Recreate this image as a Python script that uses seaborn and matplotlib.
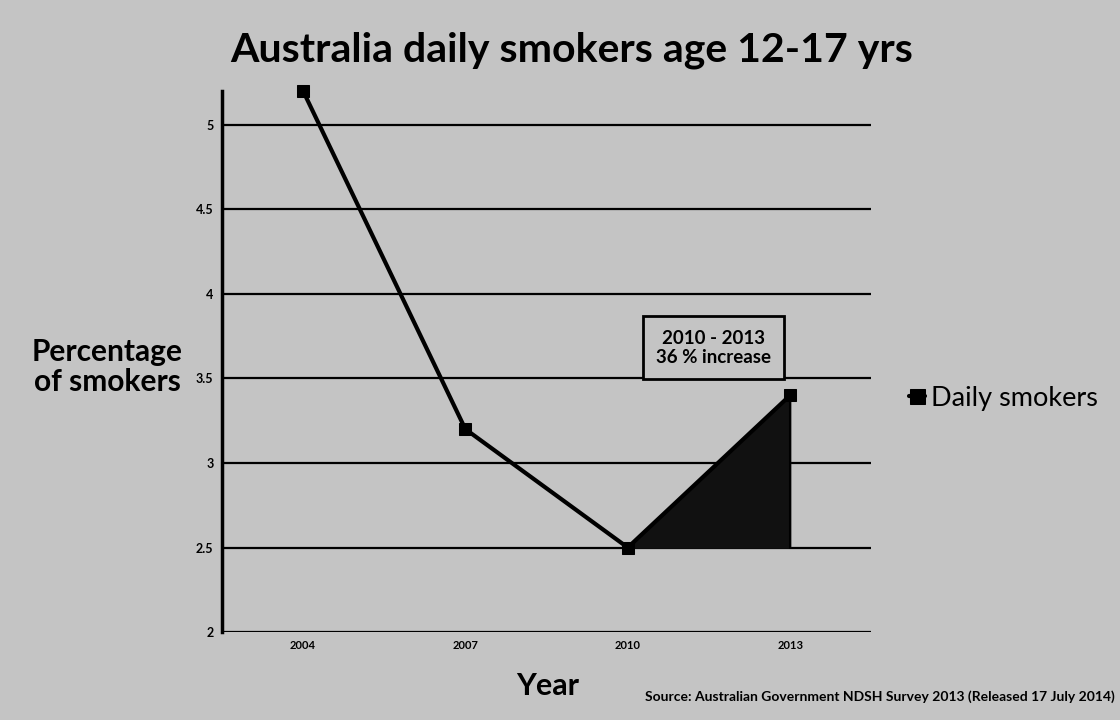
import pandas as pd
import matplotlib.pyplot as plt
import seaborn as sns

# Data
years = [2004, 2007, 2010, 2013]
smokers = [5.2, 3.2, 2.5, 3.4]
yticks = [2, 2.5, 3, 3.5, 4, 4.5, 5]
ytick_labels = ['2', '2.5', '3', '3.5', '4', '4.5', '5']

df = pd.DataFrame({'Year': years, 'Daily smokers': smokers})

sns.set_style('white')
plt.rcParams['font.family'] = ['Lato', 'DejaVu Sans']
plt.rcParams['text.color'] = 'black'
plt.rcParams['xtick.color'] = 'black'
plt.rcParams['ytick.color'] = 'black'

bg = '#c4c4c4'
fig = plt.figure(figsize=(11.2, 7.2), dpi=100, facecolor=bg)
ax = fig.add_axes([0.198, 0.122, 0.58, 0.752])
ax.set_facecolor(bg)

# grid lines at each tick
for yv in yticks:
    ax.axhline(yv, color='black', lw=1.6, zorder=1)

sns.lineplot(data=df, x='Year', y='Daily smokers', ax=ax, color='black',
             lw=3, marker='s', markersize=9, markeredgecolor='black',
             label='Daily smokers', legend=False, zorder=3, clip_on=False)

# shaded rise 2010 -> 2013
ax.fill_between(years[2:], smokers[2:], smokers[2], color='#111111', zorder=2)
ax.plot([years[3], years[3]], [smokers[2], smokers[3]], color='black', lw=1.5)

ax.set_xlim(years[0] - 1.5, years[-1] + 1.5)
ax.set_ylim(2, 5.2)
ax.set_xticks(years)
ax.set_xticklabels([str(y) for y in years], fontsize=8, fontweight='bold')
ax.set_yticks(yticks)
ax.set_yticklabels(ytick_labels, fontsize=9, fontweight='bold')
ax.tick_params(axis='both', length=0, pad=6)

for s in ['top', 'right', 'bottom']:
    ax.spines[s].set_visible(False)
ax.spines['left'].set_color('black')
ax.spines['left'].set_linewidth(2.5)

ax.set_xlabel('')
ax.set_ylabel('')

ax.text(2010 + 0.53 * 3, 3.68, '2010 - 2013\n36 % increase', ha='center', va='center',
        fontsize=13.5, fontweight='bold', linespacing=1.2,
        bbox=dict(boxstyle='square,pad=0.7', facecolor=bg, edgecolor='black', lw=2))

fig.text(0.51, 0.93, 'Australia daily smokers age 12-17 yrs', ha='center', va='center',
         fontsize=29.5, fontweight='bold')
fig.text(0.096, 0.49, 'Percentage\nof smokers', ha='center', va='center',
         fontsize=21.5, fontweight='bold', linespacing=1.1)
fig.text(0.489, 0.047, 'Year', ha='center', va='center', fontsize=22, fontweight='bold')
fig.text(0.995, 0.032, 'Source: Australian Government NDSH Survey 2013 (Released 17 July 2014)',
         ha='right', va='center', fontsize=10, fontweight='bold')

handles, labels = ax.get_legend_handles_labels()
fig.legend(handles, labels, loc='center left', bbox_to_anchor=(0.79, 0.447),
           frameon=False, fontsize=19.5, handlelength=0.6, handletextpad=0.2,
           markerscale=1.2)

fig.savefig('out.png', dpi=100, facecolor=bg)
